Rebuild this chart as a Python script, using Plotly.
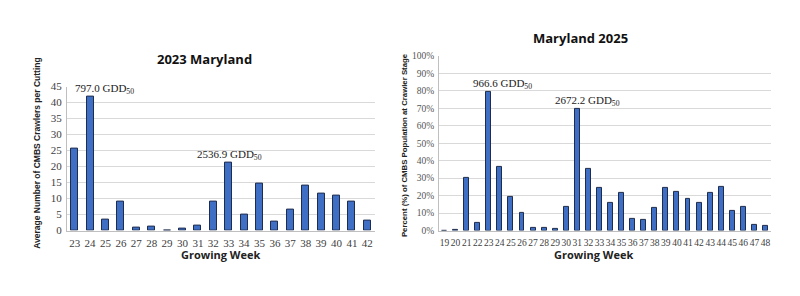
import plotly.graph_objects as go

# ---- Data ----
weeks_2023 = list(range(23, 43))
crawlers_2023 = [25.5, 41.8, 3.4, 9.2, 1.0, 1.2, 0.0, 0.7, 1.6, 8.9,
                 21.2, 5.1, 14.8, 2.7, 6.4, 14.0, 11.6, 10.9, 9.2, 3.2]

weeks_2025 = list(range(19, 49))
percent_2025 = [0.0, 0.5, 30.3, 4.2, 79.5, 36.5, 19.1, 10.0, 1.3, 1.3,
                0.9, 13.5, 69.5, 35.2, 24.3, 15.7, 21.3, 6.7, 6.3, 12.8,
                24.6, 22.2, 18.0, 15.9, 21.7, 24.8, 11.5, 13.7, 3.3, 2.8]
percent_2025 = [v / 100 for v in percent_2025]

title_left = "2023 Maryland"
title_right = "Maryland 2025"
ytitle_left = "Average Number of CMBS Crawlers per Cutting"
ytitle_right = "Percent (%) of CMBS Population at Crawler Stage"
xtitle = "Growing Week"

ann_left = [(24, 41.8, "797.0 GDD<sub>50</sub>", 14), (33, 21.2, "2536.9 GDD<sub>50</sub>", 1)]
ann_right = [(23, 0.795, "966.6 GDD<sub>50</sub>", 14), (31, 0.695, "2672.2 GDD<sub>50</sub>", 10)]

BAR = "#3f6fc4"
EDGE = "#1f2d4d"
GRID = "#d9d9d9"
AXL = "#bfbfbf"
SERIF = "Liberation Serif"
SANS = "Open Sans"
NARROW = "Liberation Sans"
TICKC = "#404040"

fig = go.Figure()
fig.add_trace(go.Bar(x=weeks_2023, y=crawlers_2023, width=0.45,
                     marker=dict(color=BAR, line=dict(color=EDGE, width=1)),
                     xaxis="x", yaxis="y", showlegend=False))
fig.add_trace(go.Bar(x=weeks_2025, y=percent_2025, width=0.45,
                     marker=dict(color=BAR, line=dict(color=EDGE, width=1)),
                     xaxis="x2", yaxis="y2", showlegend=False))

W, H = 800, 296
def px(x): return x / W
def py(y): return 1 - y / H

left_x = (67, 375); left_y = (84, 234)
right_x = (439, 771); right_y = (52, 234)

fig.update_layout(
    width=W, height=H, margin=dict(l=0, r=0, t=0, b=0),
    paper_bgcolor="white", plot_bgcolor="white", bargap=0,
    font=dict(family=SERIF, color=TICKC),
    xaxis=dict(domain=[px(left_x[0]), px(left_x[1])], range=[22.5, 42.5], anchor="y",
               showgrid=False, showline=True, linecolor=AXL, linewidth=1, ticks="",
               dtick=1, tickangle=0, zeroline=False, ticklabelstandoff=2,
               tickfont=dict(family=SERIF, size=11, color=TICKC)),
    yaxis=dict(domain=[py(left_y[1]), py(left_y[0])], range=[0, 45], dtick=5, anchor="x",
               showgrid=True, gridcolor=GRID, gridwidth=1, showline=True,
               linecolor=AXL, linewidth=1, ticks="", zeroline=False, ticklabelstandoff=2,
               tickfont=dict(family=SERIF, size=11, color=TICKC)),
    xaxis2=dict(domain=[px(right_x[0]), px(right_x[1])], range=[18.5, 48.5], anchor="y2",
                showgrid=False, showline=True, linecolor=AXL, linewidth=1, ticks="",
                dtick=1, tickangle=0, zeroline=False, ticklabelstandoff=3,
                tickfont=dict(family=SERIF, size=9.5, color=TICKC)),
    yaxis2=dict(domain=[py(right_y[1]), py(right_y[0])], range=[0, 1.0], dtick=0.1,
                tickformat=".0%", anchor="x2",
                showgrid=True, gridcolor=GRID, gridwidth=1, showline=True,
                linecolor=AXL, linewidth=1, ticks="", zeroline=False, ticklabelstandoff=2,
                tickfont=dict(family=SERIF, size=9.5, color="#555")),
)

annotations = []
for x, y, t, xs in ann_left:
    annotations.append(dict(x=x, y=y, xref="x", yref="y", text=t, showarrow=False,
                            xanchor="center", yanchor="bottom", xshift=xs, yshift=-1,
                            font=dict(family=SERIF, size=11, color="#222")))
for x, y, t, xs in ann_right:
    annotations.append(dict(x=x, y=y, xref="x2", yref="y2", text=t, showarrow=False,
                            xanchor="center", yanchor="bottom", xshift=xs, yshift=-1,
                            font=dict(family=SERIF, size=11, color="#222")))
# titles
annotations += [
    dict(x=px(204), y=py(55), xref="paper", yref="paper", text="<b>" + title_left + "</b>",
         showarrow=False, xanchor="center", yanchor="middle",
         font=dict(family=SANS, size=13, color="#111")),
    dict(x=px(580), y=py(33), xref="paper", yref="paper", text="<b>" + title_right + "</b>",
         showarrow=False, xanchor="center", yanchor="middle",
         font=dict(family=SANS, size=13, color="#111")),
    dict(x=px(220), y=py(259), xref="paper", yref="paper", text="<b>" + xtitle + "</b>",
         showarrow=False, xanchor="center", yanchor="middle",
         font=dict(family=SANS, size=11, color="#222")),
    dict(x=px(593), y=py(259), xref="paper", yref="paper", text="<b>" + xtitle + "</b>",
         showarrow=False, xanchor="center", yanchor="middle",
         font=dict(family=SANS, size=11, color="#222")),
    dict(x=px(37), y=py(154), xref="paper", yref="paper", text="<b>" + ytitle_left + "</b>",
         showarrow=False, textangle=-90, xanchor="center", yanchor="middle",
         font=dict(family=NARROW, size=8.5, color="#222")),
    dict(x=px(404), y=py(145), xref="paper", yref="paper", text="<b>" + ytitle_right + "</b>",
         showarrow=False, textangle=-90, xanchor="center", yanchor="middle",
         font=dict(family=NARROW, size=7.8, color="#222")),
]
fig.update_layout(annotations=annotations)

fig.write_html("out.html")
